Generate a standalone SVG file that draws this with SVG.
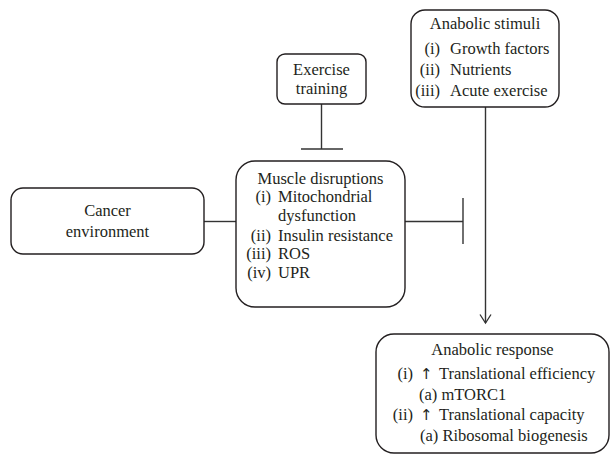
<svg xmlns="http://www.w3.org/2000/svg" width="615" height="463" viewBox="0 0 615 463">
<style>
.box{fill:#fff;stroke:#231f20;stroke-width:1.4}
.t{font-family:"Liberation Serif","DejaVu Serif","Times New Roman",serif;font-size:16.5px;fill:#231f20}
.c{text-anchor:middle}
.e{text-anchor:end}
.up{font-family:"DejaVu Sans","Liberation Sans",sans-serif;font-size:15px}
.ln{stroke:#333;stroke-width:1.4;fill:none}
</style>
<defs>
<marker id="arr" markerUnits="userSpaceOnUse" markerWidth="12" markerHeight="14" viewBox="0 0 12 14" refX="10" refY="7" orient="auto">
<path d="M1.5,1.5 L10,7 L1.5,12.5" fill="none" stroke="#333" stroke-width="1.3"/>
</marker>
</defs>
<rect width="615" height="463" fill="#fff"/>
<g id="connectors">
<line class="ln" x1="204" y1="221.5" x2="236" y2="221.5"/>
<line class="ln" x1="321.5" y1="104" x2="321.5" y2="149"/>
<line class="ln" x1="301" y1="149" x2="343" y2="149"/>
<line class="ln" x1="405" y1="221.5" x2="463" y2="221.5"/>
<line class="ln" x1="463" y1="198" x2="463" y2="244"/>
<line class="ln" x1="485.5" y1="107" x2="485.5" y2="323" marker-end="url(#arr)"/>
</g>
<g id="exercise-training">
<rect class="box" x="277" y="54" width="89" height="50" rx="8"/>
<text class="t c" x="321.5" y="75">Exercise</text>
<text class="t c" x="321.5" y="94">training</text>
</g>
<g id="anabolic-stimuli">
<rect class="box" x="411" y="10" width="148" height="97" rx="14"/>
<text class="t c" x="485" y="29">Anabolic stimuli</text>
<text class="t e" x="440" y="54">(i)</text>
<text class="t" x="450" y="54">Growth factors</text>
<text class="t e" x="440" y="75">(ii)</text>
<text class="t" x="450" y="75">Nutrients</text>
<text class="t e" x="440" y="96">(iii)</text>
<text class="t" x="450" y="96">Acute exercise</text>
</g>
<g id="cancer-environment">
<rect class="box" x="11" y="188" width="193" height="66" rx="12"/>
<text class="t c" x="107.5" y="216">Cancer</text>
<text class="t c" x="107.5" y="237">environment</text>
</g>
<g id="muscle-disruptions">
<rect class="box" x="236" y="161" width="169" height="146" rx="19"/>
<text class="t c" x="320.5" y="184">Muscle disruptions</text>
<text class="t e" x="271" y="202">(i)</text>
<text class="t" x="278" y="202">Mitochondrial</text>
<text class="t" x="278" y="221">dysfunction</text>
<text class="t e" x="271" y="240.5">(ii)</text>
<text class="t" x="278" y="240.5">Insulin resistance</text>
<text class="t e" x="271" y="259">(iii)</text>
<text class="t" x="278" y="259">ROS</text>
<text class="t e" x="271" y="278">(iv)</text>
<text class="t" x="278" y="278">UPR</text>
</g>
<g id="anabolic-response">
<rect class="box" x="376" y="334" width="233" height="119" rx="18"/>
<text class="t c" x="492.5" y="355">Anabolic response</text>
<text class="t e" x="413" y="379">(i)</text>
<text class="t up" x="420" y="379">↑</text>
<text class="t" x="439" y="379">Translational efficiency</text>
<text class="t" x="419" y="399.5">(a) mTORC1</text>
<text class="t e" x="413" y="420">(ii)</text>
<text class="t up" x="420" y="420">↑</text>
<text class="t" x="439" y="420">Translational capacity</text>
<text class="t" x="420" y="441">(a) Ribosomal biogenesis</text>
</g>
</svg>
